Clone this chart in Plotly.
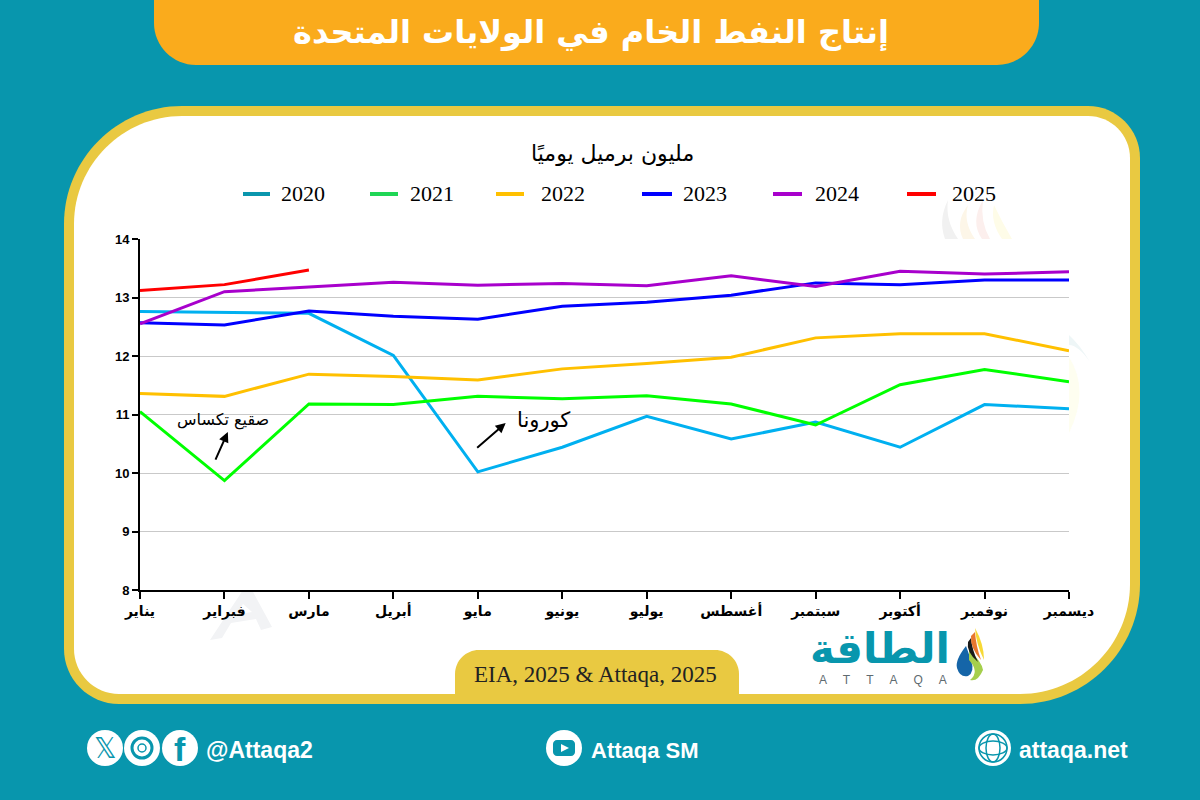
import plotly.graph_objects as go

months = ["يناير", "فبراير", "مارس", "أبريل", "مايو", "يونيو", "يوليو", "أغسطس", "سبتمبر", "أكتوبر", "نوفمبر", "ديسمبر"]
years = ["2020", "2021", "2022", "2023", "2024", "2025"]

y2020 = [12.76, 12.75, 12.73, 12.01, 10.02, 10.44, 10.97, 10.58, 10.87, 10.44, 11.17, 11.10]
y2021 = [11.05, 9.87, 11.18, 11.17, 11.31, 11.27, 11.32, 11.18, 10.82, 11.51, 11.77, 11.56]
y2022 = [11.36, 11.31, 11.69, 11.65, 11.59, 11.78, 11.87, 11.98, 12.31, 12.38, 12.38, 12.09]
y2023 = [12.57, 12.53, 12.77, 12.68, 12.63, 12.85, 12.92, 13.04, 13.25, 13.22, 13.30, 13.30]
y2024 = [12.55, 13.10, 13.18, 13.26, 13.21, 13.24, 13.20, 13.37, 13.19, 13.45, 13.40, 13.44]
y2025 = [13.12, 13.22, 13.47]

line_colors = ["#00b0f0", "#00ff00", "#ffc000", "#0000ff", "#a800cc", "#ff0000"]
key_colors = ["#0a96ad", "#1fd655", "#ffc000", "#0000ff", "#a800cc", "#ff0000"]

TEAL = "#0896ad"
GOLD = "#e9c941"
ORANGE = "#faab1c"
AR_FONT = "DejaVu Sans"


# the page is laid out in pixels, these turn pixels into paper coordinates
def px(v):
    return v / 1200


def py(v):
    return 1 - v / 800


def path(*pts):
    out = ""
    for p in pts:
        if p == "Z":
            out += "Z"
        else:
            cmd, vals = p[0], p[1:]
            coords = []
            for i in range(0, len(vals), 2):
                coords.append(f"{px(vals[i]):.5f},{py(vals[i + 1]):.5f}")
            out += cmd + " ".join(coords) + " "
    return out


def rounded(x0, y0, x1, y1, tl, tr, br, bl):
    k = 0.45
    return path(
        ("M", x0 + tl, y0), ("L", x1 - tr, y0),
        ("C", x1 - tr * k, y0, x1, y0 + tr * k, x1, y0 + tr),
        ("L", x1, y1 - br),
        ("C", x1, y1 - br * k, x1 - br * k, y1, x1 - br, y1),
        ("L", x0 + bl, y1),
        ("C", x0 + bl * k, y1, x0, y1 - bl * k, x0, y1 - bl),
        ("L", x0, y0 + tl),
        ("C", x0, y0 + tl * k, x0 + tl * k, y0, x0 + tl, y0), "Z")


def filled(d, color):
    return dict(type="path", xref="paper", yref="paper", path=d, fillcolor=color, line=dict(width=0), layer="below")


def circle(cx, cy, r, fill="white", edge=None, width=0):
    return dict(type="circle", xref="paper", yref="paper", x0=px(cx - r), x1=px(cx + r), y0=py(cy + r), y1=py(cy - r),
                fillcolor=fill, line=dict(color=edge or fill, width=width), layer="below")


def label(x, y, text, size, color="black", family="Liberation Sans", anchor="center"):
    return dict(xref="paper", yref="paper", x=px(x), y=py(y), text=text, showarrow=False, xanchor=anchor, yanchor="middle",
                font=dict(family=family, size=size, color=color))


shapes = [
    filled(rounded(154, -5, 1039, 65, 0, 0, 42, 42), ORANGE),
    filled(rounded(64, 106, 1140, 704, 118, 52, 120, 55), GOLD),
    filled(rounded(74, 116, 1130, 694, 108, 42, 110, 45), "white"),
    # faint watermarks behind the plot
    filled(path(("M", 243, 590), ("L", 210, 640), ("L", 222, 638), ("L", 231, 623), ("L", 256, 619), ("L", 261, 630), ("L", 272, 627), ("L", 252, 590), "Z"), "#f2f3f5"),
    filled(path(("M", 243, 604), ("L", 236, 615), ("L", 252, 612), "Z"), "white"),
    filled(path(("M", 948, 200), ("Q", 938, 220, 945, 239), ("L", 958, 239), ("Q", 945, 220, 948, 200), "Z"), "#f1f1f1"),
    filled(path(("M", 968, 205), ("Q", 955, 222, 963, 239), ("L", 975, 239), ("Q", 963, 222, 968, 205), "Z"), "#fdf6e8"),
    filled(path(("M", 983, 200), ("Q", 970, 222, 982, 239), ("L", 990, 239), ("Q", 980, 222, 983, 200), "Z"), "#fcefed"),
    filled(path(("M", 994, 205), ("Q", 990, 222, 1002, 239), ("L", 1012, 239), ("Q", 1002, 222, 994, 205), "Z"), "#fefce8"),
    filled(path(("M", 1069, 335), ("Q", 1080, 345, 1090, 362), ("Q", 1078, 345, 1069, 345), "Z"), "#eef6f7"),
    filled(path(("M", 1069, 357), ("Q", 1090, 390, 1069, 433), "Z"), "#fefef0"),
    # source pill
    filled(rounded(455, 650, 739, 694, 24, 24, 0, 0), GOLD),
    # logo drop and flames
    filled(path(("M", 966, 646), ("Q", 955, 660, 957, 668), ("Q", 960, 678, 968, 676), ("Q", 975, 672, 971, 660), "Z"), "#1565a8"),
    filled(path(("M", 969, 660), ("Q", 980, 672, 970, 680), ("Q", 978, 682, 983, 670), ("Q", 982, 662, 969, 650), "Z"), "#a5cf4c"),
    filled(path(("M", 968, 642), ("Q", 966, 652, 978, 662), ("Q", 972, 650, 971, 638), "Z"), "#1a1a1a"),
    filled(path(("M", 971, 636), ("Q", 970, 648, 981, 660), ("Q", 976, 646, 975, 632), "Z"), "#e8772e"),
    filled(path(("M", 975, 628), ("Q", 976, 644, 984, 660), ("Q", 984, 644, 975, 628), "Z"), "#f7d936"),
    # footer icons
    circle(105, 748, 18), circle(142, 748, 18), circle(180, 748, 18),
    circle(142, 748, 10, fill="rgba(0,0,0,0)", edge=TEAL, width=3),
    circle(142, 748, 4, fill="rgba(0,0,0,0)", edge=TEAL, width=1.5),
    circle(564, 748, 18),
    filled(rounded(553, 740, 575, 756, 4, 4, 4, 4), TEAL),
    filled(path(("M", 561, 744), ("L", 569, 748), ("L", 561, 752), "Z"), "white"),
    circle(993, 748, 18),
    circle(993, 748, 14, fill="rgba(0,0,0,0)", edge=TEAL, width=1.5),
    dict(type="circle", xref="paper", yref="paper", x0=px(986), x1=px(1000), y0=py(762), y1=py(734), fillcolor="rgba(0,0,0,0)", line=dict(color=TEAL, width=1.5), layer="below"),
    dict(type="circle", xref="paper", yref="paper", x0=px(979), x1=px(1007), y0=py(755), y1=py(741), fillcolor="rgba(0,0,0,0)", line=dict(color=TEAL, width=1.5), layer="below"),
]

# legend keys are placed by hand, the gaps in the reference are not regular
key_x = [(243, 270), (370, 398), (496, 524), (642, 672), (773, 802), (907, 936)]
text_x = [303, 432, 563, 705, 837, 974]
annotations = []
for (k0, k1), tx, yr, col in zip(key_x, text_x, years, key_colors):
    shapes.append(dict(type="line", xref="paper", yref="paper", x0=px(k0), x1=px(k1), y0=py(194), y1=py(194),
                       line=dict(color=col, width=4)))
    annotations.append(label(tx, 194, yr, 22, family="Liberation Serif"))

annotations += [
    label(591, 32, "<b>إنتاج النفط الخام في الولايات المتحدة</b>", 32, "white", AR_FONT),
    label(612, 153, "مليون برميل يوميًا", 22, "black", AR_FONT),
    label(595, 674, "EIA, 2025 &amp; Attaqa, 2025", 23, "#222222", "Liberation Serif"),
    label(223, 420, "صقيع تكساس", 16, "black", AR_FONT),
    label(543, 420, "كورونا", 21, "black", AR_FONT),
    label(880, 648, "<b>الطاقة</b>", 42, TEAL, AR_FONT),
    label(883, 680, "A     T     T     A     Q     A", 12, "#5f6b70", "Liberation Sans"),
    label(105, 748, "𝕏", 28, TEAL, "DejaVu Sans"),
    label(180, 749, "<b>f</b>", 34, TEAL, "Liberation Sans"),
    label(259, 750, "<b>@Attaqa2</b>", 23, "white"),
    label(645, 750, "<b>Attaqa SM</b>", 22, "white"),
    label(1073, 750, "<b>attaqa.net</b>", 23, "white"),
    dict(xref="x", yref="y", x=1.04, y=10.70, ax=-13, ay=29, text="", showarrow=True, arrowhead=2, arrowsize=1, arrowwidth=2, arrowcolor="black"),
    dict(xref="x", yref="y", x=4.33, y=10.855, ax=-30, ay=26, text="", showarrow=True, arrowhead=2, arrowsize=1, arrowwidth=2, arrowcolor="black"),
]

fig = go.Figure()
all_series = [y2020, y2021, y2022, y2023, y2024, y2025]
for yr, vals, col in zip(years, all_series, line_colors):
    fig.add_trace(go.Scatter(x=months[:len(vals)], y=vals, name=yr, mode="lines", line=dict(color=col, width=3)))

fig.update_xaxes(
    domain=[px(140), px(1069)], type="category", range=[0, 11], showgrid=False, automargin=False,
    showline=True, linecolor="black", linewidth=2, ticks="outside", ticklen=7, tickwidth=2, tickcolor="black",
    tickangle=0, tickfont=dict(family=AR_FONT, size=14, color="black"), tickprefix="<b>", ticksuffix="</b>",
)
fig.update_yaxes(
    domain=[py(590), py(239)], range=[8, 14], dtick=1, showgrid=True, gridcolor="#c9c9c9", gridwidth=1.4, zeroline=False, automargin=False,
    showline=True, linecolor="black", linewidth=2, ticks="outside", ticklen=6, tickwidth=2, tickcolor="black",
    tickfont=dict(family="Liberation Sans", size=13, color="black"), tickprefix="<b>", ticksuffix="</b>",
)
fig.update_layout(
    width=1200, height=800, margin=dict(l=0, r=0, t=0, b=0), showlegend=False,
    paper_bgcolor=TEAL, plot_bgcolor="rgba(0,0,0,0)", shapes=shapes, annotations=annotations,
)
# drop the browser's default page margin so the figure fills the window
fig.write_html("out.html", config={"displayModeBar": False},
               post_script="document.body.style.margin='0';document.body.style.overflow='hidden';")
